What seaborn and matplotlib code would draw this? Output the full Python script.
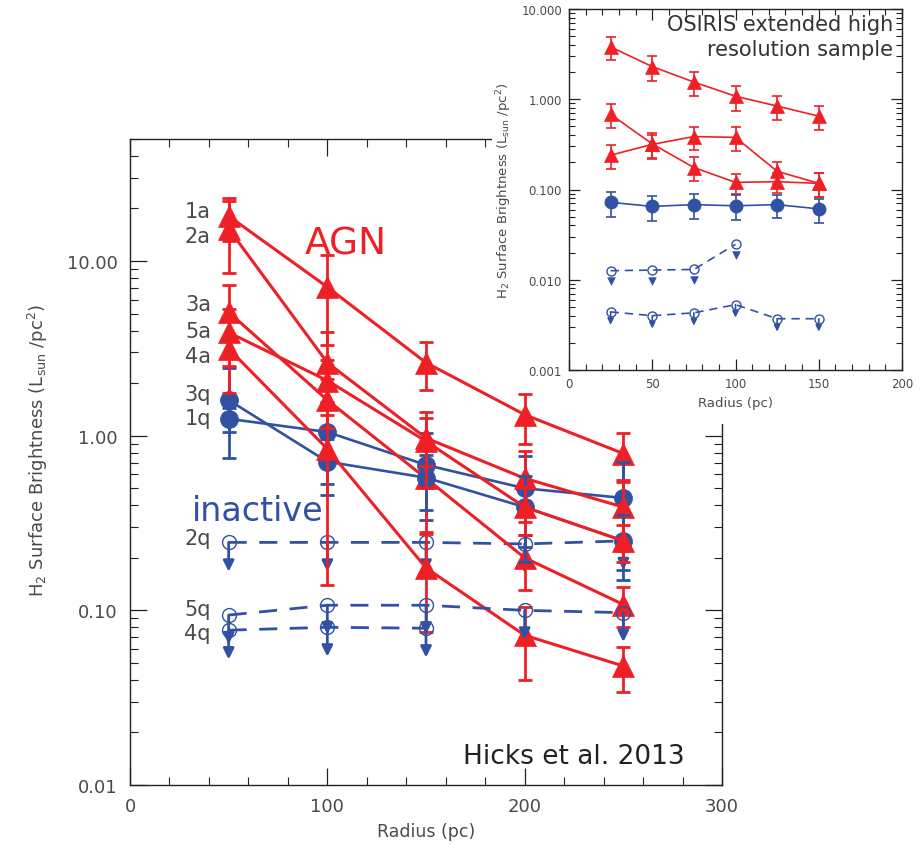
import numpy as np
import matplotlib
matplotlib.use("Agg")
import matplotlib.pyplot as plt
import seaborn as sns
from matplotlib.ticker import (MultipleLocator, LogLocator, FormatStrFormatter,
                               NullFormatter)
from matplotlib.patches import Rectangle

# ---------------- data: main panel (Hicks et al. 2013) ----------------
radius_main = [50, 100, 150, 200, 250]

agn_1a = [18.1, 7.1, 2.62, 1.32, 0.79]
err_1a = [5.0, 3.8, 0.8, 0.42, 0.25]
agn_2a = [15.3, 2.62, 0.97, 0.57, 0.39]
err_2a = [6.8, 1.3, 0.3, 0.25, 0.17]
agn_3a = [5.1, 1.6, 0.57, 0.20, 0.108]
err_3a = [2.2, 0.5, 0.29, 0.07, 0.028]
agn_4a = [3.15, 0.84, 0.175, 0.072, 0.048]
err_4a = [1.4, 0.70, 0.10, 0.032, 0.014]
agn_5a = [3.9, 2.07, 0.93, 0.39, 0.25]
err_5a = [1.4, 0.64, 0.43, 0.12, 0.06]

inactive_1q = [1.25, 1.05, 0.68, 0.50, 0.44]
err_1q = [0.2, 0.52, 0.35, 0.27, 0.27]
inactive_3q = [1.6, 0.71, 0.575, 0.39, 0.25]
err_3q = [0.85, 0.25, 0.2, 0.2, 0.1]

limit_2q = [0.245, 0.245, 0.245, 0.24, 0.25]
limit_5q = [0.094, 0.107, 0.107, 0.10, 0.097]
radius_4q = [50, 100, 150]
limit_4q = [0.077, 0.080, 0.079]

series_labels = ["1a", "2a", "3a", "5a", "4a", "3q", "1q", "2q", "5q", "4q"]

# ---------------- data: inset (OSIRIS extended sample) ----------------
radius_inset = [25, 50, 75, 100, 125, 150]
osiris_agn1 = [3.8, 2.3, 1.55, 1.08, 0.84, 0.65]
osiris_err1 = [1.1, 0.7, 0.45, 0.33, 0.25, 0.19]
osiris_agn2 = [0.68, 0.32, 0.175, 0.12, 0.122, 0.117]
osiris_err2 = [0.2, 0.1, 0.052, 0.03, 0.03, 0.035]
osiris_agn3 = [0.24, 0.316, 0.386, 0.378, 0.159, 0.117]
osiris_err3 = [0.07, 0.09, 0.11, 0.11, 0.045, 0.035]
osiris_inact = [0.072, 0.065, 0.068, 0.066, 0.068, 0.061]
osiris_inact_err = [0.022, 0.02, 0.021, 0.02, 0.02, 0.018]
radius_inset_lim1 = [25, 50, 75, 100]
osiris_lim1 = [0.0126, 0.0128, 0.013, 0.0247]
osiris_lim2 = [0.0044, 0.0040, 0.0043, 0.0053, 0.0037, 0.0037]

# ---------------- style ----------------
sns.set_style("white")
plt.rcParams['font.family'] = ['DejaVu Sans']
plt.rcParams['mathtext.fontset'] = 'dejavusans'

RED = '#EE2026'
BLUE = '#3152A3'
GREY = '#4a4a4a'
AXC = '#222222'

W, H = 921, 854
fig = plt.figure(figsize=(W / 100, H / 100), dpi=100)
fig.patch.set_facecolor('white')


def style_axes(a, major_len, minor_len, labsize, pad):
    a.tick_params(which='both', direction='in', top=True, right=True,
                  bottom=True, left=True, color=AXC, labelcolor=GREY,
                  labelsize=labsize, pad=pad)
    a.tick_params(which='major', length=major_len, width=0.9)
    a.tick_params(which='minor', length=minor_len, width=0.8)
    for s in a.spines.values():
        s.set_visible(True)
        s.set_linewidth(1.0)
        s.set_color(AXC)


def draw_series(a, x, y, err, color, marker, ms, lw, elw, cap, z):
    a.errorbar(x, y, yerr=err, fmt='none', ecolor=color, elinewidth=elw,
               capsize=cap, capthick=elw, zorder=z)
    sns.lineplot(x=x, y=y, ax=a, color=color, marker=marker, markersize=ms,
                 markeredgecolor=color, markeredgewidth=0.5, linewidth=lw,
                 zorder=z + 0.5)


def draw_limits(a, x, y, color, ms, lw, dash, frac, head, z, shaft=True):
    sns.lineplot(x=x, y=y, ax=a, color=color, marker='o', markersize=ms,
                 markerfacecolor='none', markeredgecolor=color,
                 markeredgewidth=1.0, linewidth=lw, linestyle=(0, dash),
                 zorder=z)
    for xi, yi in zip(x, y):
        if shaft:
            a.annotate('', xy=(xi, yi * frac), xytext=(xi, yi),
                       arrowprops=dict(arrowstyle='-|>', color=color, lw=lw,
                                       shrinkA=0, shrinkB=0,
                                       mutation_scale=head),
                       zorder=z)


# ---------------- main panel ----------------
ax = fig.add_axes([130 / W, 1 - 786 / H, 592 / W, 646 / H])
ax.set_zorder(0)
ax.set_yscale('log')

z = 2
groups = [
    ('a', agn_1a, err_1a), ('q', inactive_1q, err_1q),
    ('a', agn_2a, err_2a), ('l', limit_2q, None),
    ('a', agn_3a, err_3a), ('q', inactive_3q, err_3q),
    ('a', agn_4a, err_4a), ('l4', limit_4q, None),
    ('a', agn_5a, err_5a), ('l', limit_5q, None),
]
for kind, vals, errs in groups:
    if kind == 'a':
        draw_series(ax, radius_main, vals, errs, RED, '^', 16, 2.2, 2.0, 5, z)
    elif kind == 'q':
        draw_series(ax, radius_main, vals, errs, BLUE, 'o', 13, 1.9, 2.0, 5, z)
    elif kind == 'l':
        draw_limits(ax, radius_main, vals, BLUE, 10, 2.0, (6.5, 4.5), 0.68, 16, z)
    else:
        draw_limits(ax, radius_4q, vals, BLUE, 10, 2.0, (6.5, 4.5), 0.68, 16, z)
    z += 2

ax.set_xlim(0, 300)
ax.set_ylim(0.01, 50)
ax.xaxis.set_major_locator(MultipleLocator(100))
ax.xaxis.set_minor_locator(MultipleLocator(20))
ax.yaxis.set_major_locator(LogLocator(base=10, numticks=10))
ax.yaxis.set_minor_locator(LogLocator(base=10, subs=np.arange(2, 10), numticks=20))
ax.yaxis.set_major_formatter(FormatStrFormatter('%.2f'))
ax.yaxis.set_minor_formatter(NullFormatter())
style_axes(ax, 12, 6, 13, 9)

ax.set_xlabel('Radius (pc)', fontsize=12.5, color=GREY)
ax.xaxis.set_label_coords(0.5, -0.057)
ax.set_ylabel('H$_2$ Surface Brightness (L$_{\\mathrm{sun}}$ /pc$^2$)',
              fontsize=13, color=GREY)
ax.yaxis.set_label_coords(-0.135, 0.52)

# series labels (text placement only)
label_x = 41
label_y = [17.9, 12.9, 5.25, 3.69, 2.64, 1.61, 1.17, 0.241, 0.094, 0.0684]
for lab, ly in zip(series_labels, label_y):
    ax.text(label_x, ly, lab, fontsize=15, color=GREY, ha='right',
            va='baseline', zorder=30)

ax.text(88.7, 11.0, 'AGN', fontsize=27, color=RED, ha='left', va='baseline',
        zorder=30)
ax.text(31.4, 0.327, 'inactive', fontsize=24, color=BLUE, ha='left',
        va='baseline', zorder=30)
ax.text(281.3, 0.0133, 'Hicks et al. 2013', fontsize=19, color='#222222',
        ha='right', va='baseline', zorder=30)

# white backing for the inset picture
fig.add_artist(Rectangle((492 / W, 1 - 372 / H), (W - 492) / W, 372 / H,
                         transform=fig.transFigure, facecolor='white',
                         edgecolor='none', zorder=1))
fig.add_artist(Rectangle((555 / W, 1 - 425 / H), (W - 555) / W, 60 / H,
                         transform=fig.transFigure, facecolor='white',
                         edgecolor='none', zorder=1))

# ---------------- inset ----------------
axi = fig.add_axes([569 / W, 1 - 371 / H, 333 / W, 361 / H])
axi.set_zorder(2)
axi.set_facecolor('white')
axi.set_yscale('log')

draw_series(axi, radius_inset, osiris_agn1, osiris_err1, RED, '^', 10, 1.2, 1.2, 3.5, 3)
draw_series(axi, radius_inset, osiris_agn2, osiris_err2, RED, '^', 10, 1.2, 1.2, 3.5, 4)
draw_series(axi, radius_inset, osiris_agn3, osiris_err3, RED, '^', 10, 1.2, 1.2, 3.5, 5)
draw_series(axi, radius_inset, osiris_inact, osiris_inact_err, BLUE, 'o', 9.5, 1.2, 1.2, 3.5, 6)
draw_limits(axi, radius_inset_lim1, osiris_lim1, BLUE, 6.5, 1.2, (5, 3.5), 0.74, 8, 7,
            shaft=False)
sns.scatterplot(x=radius_inset_lim1, y=np.asarray(osiris_lim1) * 0.76, ax=axi,
                marker='v', s=30, color=BLUE, edgecolor=BLUE, zorder=7)
draw_limits(axi, radius_inset, osiris_lim2, BLUE, 6.5, 1.2, (5, 3.5), 0.72, 9, 8)

axi.set_xlim(0, 200)
axi.set_ylim(0.001, 10)
axi.xaxis.set_major_locator(MultipleLocator(50))
axi.xaxis.set_minor_locator(MultipleLocator(10))
axi.yaxis.set_major_locator(LogLocator(base=10, numticks=10))
axi.yaxis.set_minor_locator(LogLocator(base=10, subs=np.arange(2, 10), numticks=20))
axi.yaxis.set_major_formatter(FormatStrFormatter('%.3f'))
axi.yaxis.set_minor_formatter(NullFormatter())
style_axes(axi, 8, 4, 8.5, 5)

axi.set_xlabel('Radius (pc)', fontsize=9.5, color=GREY)
axi.xaxis.set_label_coords(0.5, -0.072)
axi.set_ylabel('H$_2$ Surface Brightness (L$_{\\mathrm{sun}}$ /pc$^2$)',
               fontsize=9.5, color=GREY)
axi.yaxis.set_label_coords(-0.165, 0.5)

axi.text(0.973, 0.985, 'OSIRIS extended high\nresolution sample',
         transform=axi.transAxes, fontsize=15, color='#333333', ha='right',
         va='top', linespacing=1.3, zorder=20)

fig.savefig('out.png', dpi=100, facecolor='white')
